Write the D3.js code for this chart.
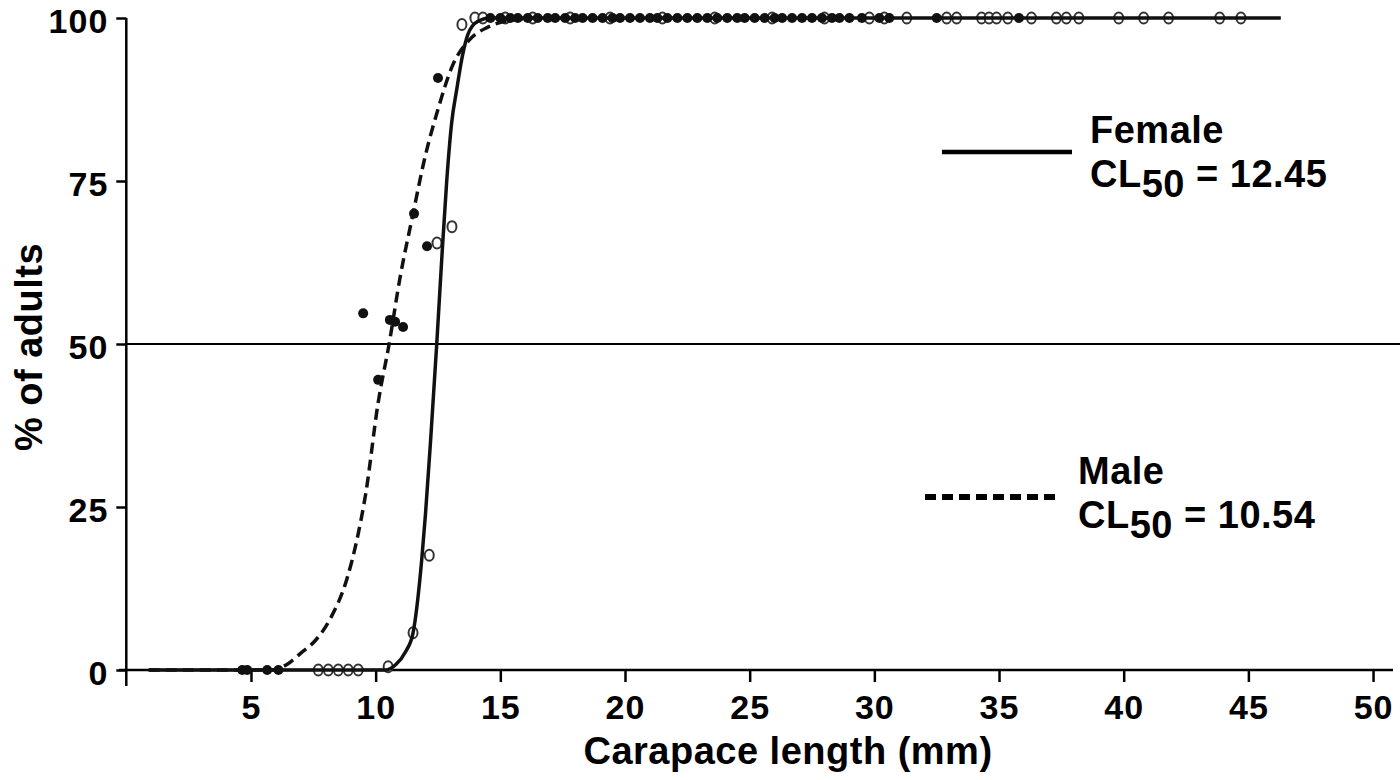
<!DOCTYPE html>
<html>
<head>
<meta charset="utf-8">
<script src="https://cdn.jsdelivr.net/npm/d3@7"></script>
<style>
  body { margin: 0; background: #fff; }
  text { font-family: "Liberation Sans", Arial, sans-serif; font-weight: bold; fill: #000; }
</style>
</head>
<body>
<svg id="chart"></svg>
<script>
'use strict';

// chart size
const W = 1400, H = 780;

// tick values
const xTicks = [5, 10, 15, 20, 25, 30, 35, 40, 45, 50];
const yTicks = [0, 25, 50, 75, 100];

// fitted curves [length mm, % adults]
const femaleCurve = [[0.9, 0], [10.4, 0], [10.8, 0.8], [11.2, 2.8], [11.5, 5.7], [11.85, 17], [12.0, 24],
  [12.2, 35], [12.45, 50], [12.65, 63], [12.85, 75], [13.05, 84], [13.25, 89], [13.47, 94],
  [13.7, 97.5], [14.1, 99.5], [14.6, 100], [46.3, 100]];
const maleCurve = [[0.9, 0], [5.8, 0], [6.5, 1], [7.0, 2.6], [7.6, 4.6], [8.2, 8], [8.85, 14], [9.25, 20],
  [9.6, 27], [10.1, 41], [10.54, 50], [10.97, 60], [11.5, 70], [12.0, 79], [12.5, 86], [13.06, 92.5],
  [13.8, 96.8], [14.5, 98.6], [15.5, 99.7], [16.5, 100]];

// observed points [length mm, % adults]
const femalePts = [[7.7, 0], [8.1, 0], [8.5, 0], [8.9, 0], [9.3, 0], [10.5, 0.5], [11.5, 5.7],
  [12.15, 17.6], [12.46, 65.5], [13.06, 68], [13.46, 99], [13.98, 100]];
const malePts = [[4.65, 0], [4.85, 0], [5.65, 0], [6.1, 0], [9.5, 54.7], [10.1, 44.5], [10.57, 53.7],
  [10.78, 53.4], [11.1, 52.6], [11.54, 70], [12.06, 65], [12.5, 90.8]];

// lengths observed at 100 % adults
const femaleTop = [14.3, 15.2, 16.3, 17.8, 19.4, 21.5, 23.6, 25.9, 28.0, 29.8, 30.4, 31.3, 32.9, 33.3,
  34.3, 34.6, 34.9, 35.35, 36.3, 37.3, 37.7, 38.2, 39.8, 40.8, 41.8, 43.85, 44.7];
const maleTop = [14.6, 15.0, 15.4, 15.7, 16.1, 16.5, 16.9, 17.2, 17.6, 18.0, 18.3, 18.7, 19.1, 19.5,
  19.8, 20.2, 20.6, 21.0, 21.3, 21.7, 22.1, 22.5, 22.9, 23.3, 23.7, 24.1, 24.5, 24.8, 25.2, 25.6,
  26.0, 26.3, 26.7, 27.1, 27.5, 27.9, 28.3, 28.6, 29.0, 29.5, 30.2, 30.6, 32.5, 35.8];

// legend entries
const legendNames = ['Female', 'Male'];
const legendCL50 = ['12.45', '10.54'];

const svg = d3.select('#chart').attr('width', W).attr('height', H);

const x = d3.scaleLinear().domain([0, 50.8]).range([126.3, 1393]);
const y = d3.scaleLinear().domain([0, 100]).range([670, 18]);

// reference line at 50 %
svg.append('line')
  .attr('x1', x(0)).attr('x2', W)
  .attr('y1', y(50)).attr('y2', y(50))
  .attr('stroke', '#000').attr('stroke-width', 2);

// axes
const gy = svg.append('g')
  .attr('transform', `translate(${x(0)},0)`)
  .call(d3.axisLeft(y).tickValues(yTicks).tickSize(10).tickPadding(8));
const gx = svg.append('g')
  .attr('transform', `translate(0,${y(0)})`)
  .call(d3.axisBottom(x).tickValues(xTicks).tickSize(12).tickPadding(13));

gy.select('.domain').remove();
gx.select('.domain').remove();
[gx, gy].forEach(g => {
  g.selectAll('.tick line').attr('stroke', '#000').attr('stroke-width', 2.5);
  g.selectAll('.tick text')
    .attr('font-family', '"Liberation Sans", Arial, sans-serif')
    .attr('font-weight', 'bold').attr('font-size', 34).attr('fill', '#000')
    .attr('letter-spacing', 1);
});
// labels sit a little below their ticks in the original
gy.selectAll('.tick text').attr('y', 4);

svg.append('line')
  .attr('x1', x(0)).attr('x2', x(0))
  .attr('y1', y(100)).attr('y2', 686)
  .attr('stroke', '#000').attr('stroke-width', 2.5);
svg.append('line')
  .attr('x1', 119).attr('x2', x(50.8))
  .attr('y1', y(0)).attr('y2', y(0))
  .attr('stroke', '#000').attr('stroke-width', 2.5);

// axis titles
svg.append('text')
  .attr('x', 788).attr('y', 764)
  .attr('text-anchor', 'middle').attr('font-size', 38)
  .attr('letter-spacing', 0.5)
  .text('Carapace length (mm)');
svg.append('text')
  .attr('transform', 'translate(42,347) rotate(-90)')
  .attr('text-anchor', 'middle').attr('font-size', 38)
  .attr('letter-spacing', 0.5)
  .text('% of adults');

// markers
const malePoints = malePts.concat(maleTop.map(v => [v, 100]));
const femalePoints = femalePts.concat(femaleTop.map(v => [v, 100]));

svg.append('g').selectAll('ellipse')
  .data(femalePoints)
  .join('ellipse')
  .attr('cx', d => x(d[0])).attr('cy', d => y(d[1]))
  .attr('rx', 4.5).attr('ry', 5.5)
  .attr('fill', '#fff').attr('stroke', '#333').attr('stroke-width', 2);

svg.append('g').selectAll('circle')
  .data(malePoints)
  .join('circle')
  .attr('cx', d => x(d[0])).attr('cy', d => y(d[1]))
  .attr('r', 5)
  .attr('fill', '#111');

// fitted curves
const line = d3.line()
  .x(d => x(d[0])).y(d => y(d[1]))
  .curve(d3.curveMonotoneX);

svg.append('path')
  .datum(femaleCurve)
  .attr('d', line)
  .attr('fill', 'none').attr('stroke', '#111').attr('stroke-width', 3.5);

svg.append('path')
  .datum(maleCurve)
  .attr('d', line)
  .attr('fill', 'none').attr('stroke', '#111').attr('stroke-width', 3.5)
  .attr('stroke-dasharray', '11,6');

// legend
const legend = [
  { name: legendNames[0], cl: legendCL50[0], lx: 942, ly: 152, tx: 1090, ty: 143, dash: null, sw: 4.5 },
  { name: legendNames[1], cl: legendCL50[1], lx: 925, ly: 497, tx: 1078, ty: 484, dash: '11,6', sw: 6 }
];

legend.forEach(l => {
  svg.append('line')
    .attr('x1', l.lx).attr('x2', l.lx + 130)
    .attr('y1', l.ly).attr('y2', l.ly)
    .attr('stroke', '#000').attr('stroke-width', l.sw)
    .attr('stroke-dasharray', l.dash);
  svg.append('text')
    .attr('x', l.tx).attr('y', l.ty)
    .attr('font-size', 38).attr('letter-spacing', 0.5)
    .text(l.name);
  const t = svg.append('text')
    .attr('x', l.tx).attr('y', l.ty + 44)
    .attr('font-size', 38).attr('letter-spacing', 0.5);
  t.append('tspan').text('CL');
  t.append('tspan').attr('dy', 10).text('50');
  t.append('tspan').attr('dy', -10).text(' = ' + l.cl);
});
</script>
</body>
</html>
